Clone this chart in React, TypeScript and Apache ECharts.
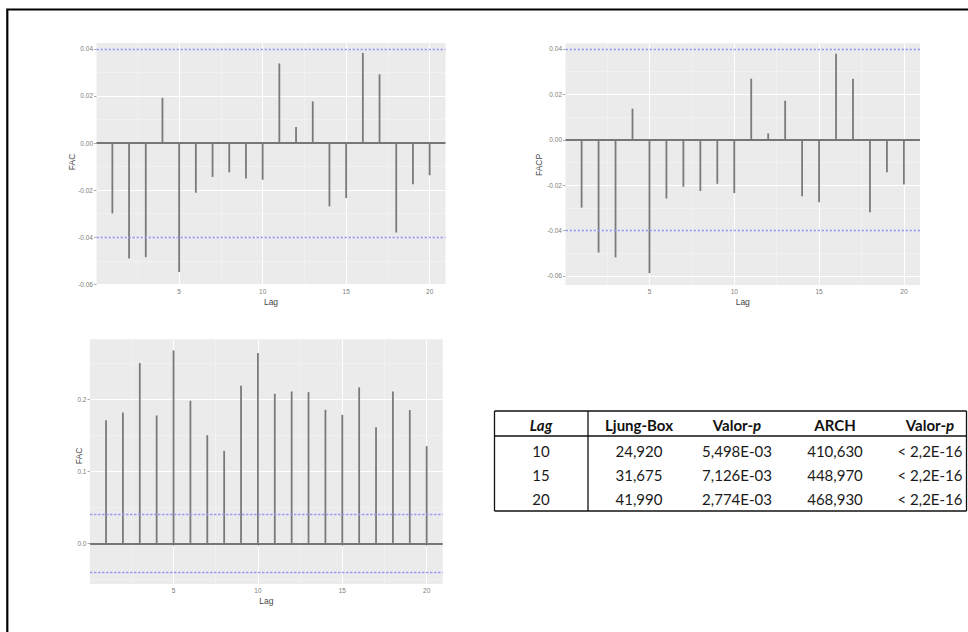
import { useEffect, useRef } from 'react';
import * as echarts from 'echarts';

// Correlograms of the model residuals (lags 1-20)
const LAGS = [1, 2, 3, 4, 5, 6, 7, 8, 9, 10, 11, 12, 13, 14, 15, 16, 17, 18, 19, 20];
const FAC_RESID = [
  -0.0299, -0.049, -0.0485, 0.0192, -0.0548, -0.0211, -0.0144, -0.0124, -0.0151, -0.0156,
  0.0338, 0.0068, 0.0177, -0.0269, -0.0234, 0.0383, 0.0292, -0.038, -0.0175, -0.0137,
];
const FACP_RESID = [
  -0.0299, -0.0497, -0.0518, 0.0137, -0.0588, -0.0259, -0.0207, -0.0226, -0.0194, -0.0235,
  0.0269, 0.0028, 0.0172, -0.0249, -0.0275, 0.0379, 0.0269, -0.0319, -0.0143, -0.0197,
];
const FAC_RESID_SQ = [
  0.1709, 0.1815, 0.2499, 0.1774, 0.2674, 0.1977, 0.1501, 0.1284, 0.2185, 0.2637,
  0.2074, 0.2106, 0.2097, 0.1852, 0.1783, 0.2162, 0.1612, 0.2106, 0.1848, 0.1349,
];
const CONF_BOUND = 0.0402;

const LAG_TICKS = [5, 10, 15, 20];
const SMALL_TICKS = [-0.06, -0.04, -0.02, 0, 0.02, 0.04];
const SQ_TICKS = [0, 0.1, 0.2];

// Ljung-Box and ARCH tests
const TABLE_LAGS = ['10', '15', '20'];
const LJUNG_BOX = ['24,920', '31,675', '41,990'];
const LJUNG_BOX_P = ['5,498E-03', '7,126E-03', '2,774E-03'];
const ARCH_STAT = ['410,630', '448,970', '468,930'];
const ARCH_P = ['< 2,2E-16', '< 2,2E-16', '< 2,2E-16'];

const SANS = '"Liberation Sans", Arial, sans-serif';
const TABLE_FONT = 'Lato, "Open Sans", sans-serif';

type Panel = {
  values: number[];
  yTitle: string;
  ticks: number[];
  digits: number;
  yMin: number;
  yMax: number;
  left: number;
  top: number;
  width: number;
  height: number;
  yTitleX: number;
  yTitleY: number;
};

const panels: Panel[] = [
  {
    values: FAC_RESID, yTitle: 'FAC', ticks: SMALL_TICKS, digits: 2,
    yMin: -0.0603, yMax: 0.0425,
    left: 96.5, top: 43, width: 349, height: 242, yTitleX: 71.7, yTitleY: 162,
  },
  {
    values: FACP_RESID, yTitle: 'FACP', ticks: SMALL_TICKS, digits: 2,
    yMin: -0.064, yMax: 0.0425,
    left: 565.5, top: 43.3, width: 354.5, height: 241.7, yTitleX: 539.3, yTitleY: 165,
  },
  {
    values: FAC_RESID_SQ, yTitle: 'FAC', ticks: SQ_TICKS, digits: 1,
    yMin: -0.0559, yMax: 0.2828,
    left: 90, top: 339.3, width: 352.7, height: 244.7, yTitleX: 78.5, yTitleY: 456,
  },
];

// ggplot-style 5% expansion of the lag range
const lagSpan = LAGS[LAGS.length - 1] - LAGS[0];
const LAG_MIN = LAGS[0] - 0.05 * lagSpan;
const LAG_MAX = LAGS[LAGS.length - 1] + 0.05 * lagSpan;

// minor grid lines sit halfway between the major breaks
function minorBreaks(ticks: number[], lo: number, hi: number): number[] {
  const step = ticks[1] - ticks[0];
  const out = [ticks[0] - step / 2, ...ticks.map((t) => t + step / 2)];
  return out.filter((v) => v > lo && v < hi);
}

function buildOption() {
  const grid: any[] = [];
  const xAxis: any[] = [];
  const yAxis: any[] = [];
  const series: any[] = [];
  const graphic: any[] = [];

  panels.forEach((p, i) => {
    grid.push({
      left: p.left, top: p.top, width: p.width, height: p.height,
      show: true, backgroundColor: '#EBEBEB', borderWidth: 0, containLabel: false,
    });

    const labelStyle = { fontSize: 6.5, color: '#7d7d7d', fontFamily: SANS };
    const tickStyle = { color: '#9a9a9a', width: 0.8 };

    xAxis.push({
      type: 'value', gridIndex: i, min: LAG_MIN, max: LAG_MAX,
      axisLine: { show: false },
      axisTick: { show: true, length: 2.5, lineStyle: tickStyle, customValues: LAG_TICKS },
      axisLabel: { ...labelStyle, margin: 3, customValues: LAG_TICKS },
      splitLine: { show: true, lineStyle: { color: '#ffffff', width: 1 } },
    });
    xAxis.push({
      type: 'value', gridIndex: i, min: LAG_MIN, max: LAG_MAX,
      axisLine: { show: false },
      axisTick: { show: false, customValues: minorBreaks(LAG_TICKS, LAG_MIN, LAG_MAX) },
      axisLabel: { show: false },
      splitLine: { show: true, lineStyle: { color: '#f6f6f6', width: 0.5 } },
    });

    yAxis.push({
      type: 'value', gridIndex: i, min: p.yMin, max: p.yMax,
      axisLine: { show: false },
      axisTick: { show: true, length: 2.5, lineStyle: tickStyle, customValues: p.ticks },
      axisLabel: {
        ...labelStyle, margin: 3.5, customValues: p.ticks,
        formatter: (v: number) => v.toFixed(p.digits),
      },
      splitLine: { show: true, lineStyle: { color: '#ffffff', width: 1 } },
    });
    yAxis.push({
      type: 'value', gridIndex: i, min: p.yMin, max: p.yMax,
      axisLine: { show: false },
      axisTick: { show: false, customValues: minorBreaks(p.ticks, p.yMin, p.yMax) },
      axisLabel: { show: false },
      splitLine: { show: true, lineStyle: { color: '#f6f6f6', width: 0.5 } },
    });

    series.push({
      type: 'bar',
      xAxisIndex: 2 * i,
      yAxisIndex: 2 * i,
      data: LAGS.map((lag, k) => [lag, p.values[k]]),
      barWidth: 1.8,
      itemStyle: { color: '#7a7a7a' },
      silent: true,
      markLine: {
        silent: true,
        symbol: 'none',
        label: { show: false },
        data: [
          { yAxis: 0, lineStyle: { color: '#767676', width: 2, type: 'solid' } },
          { yAxis: CONF_BOUND, lineStyle: { color: '#9a9af0', width: 1.3, type: [2.5, 1.5] } },
          { yAxis: -CONF_BOUND, lineStyle: { color: '#9a9af0', width: 1.3, type: [2.5, 1.5] } },
        ],
      },
    });

    // axis titles
    graphic.push({
      type: 'text',
      x: p.left + p.width / 2,
      y: p.top + p.height + 17,
      style: {
        text: 'Lag', fontSize: 8.5, fontFamily: SANS, fill: '#484848',
        align: 'center', verticalAlign: 'middle',
      },
    });
    graphic.push({
      type: 'text',
      x: p.yTitleX,
      y: p.yTitleY,
      rotation: Math.PI / 2,
      style: {
        text: p.yTitle, fontSize: 8.5, fontFamily: SANS, fill: '#484848',
        align: 'center', verticalAlign: 'middle',
      },
    });
  });

  // test table
  const tLeft = 494.5;
  const tRight = 966.5;
  const tTop = 411;
  const tHeadLine = 436;
  const tBottom = 511;
  const tSep = 588;
  const colX = [541, 639, 737, 835, 930];
  const headY = 424.5;
  const rowY = [451, 475, 499];
  const lineStyle = { stroke: '#111111', lineWidth: 1.3 };

  const hLine = (y: number) => ({
    type: 'line', shape: { x1: tLeft, y1: y, x2: tRight, y2: y }, style: lineStyle,
  });
  const vLine = (x: number) => ({
    type: 'line', shape: { x1: x, y1: tTop, x2: x, y2: tBottom }, style: lineStyle,
  });
  graphic.push(hLine(tTop), hLine(tHeadLine), hLine(tBottom), vLine(tLeft), vLine(tSep), vLine(tRight));

  const headRich = {
    b: { fontWeight: 'bold', fontSize: 15, fontFamily: TABLE_FONT, fill: '#111111' },
    bi: { fontWeight: 'bold', fontStyle: 'italic', fontSize: 15, fontFamily: TABLE_FONT, fill: '#111111' },
  };
  const headers = ['{bi|Lag}', '{b|Ljung-Box}', '{b|Valor-}{bi|p}', '{b|ARCH}', '{b|Valor-}{bi|p}'];
  headers.forEach((h, c) => {
    graphic.push({
      type: 'text', x: colX[c], y: headY,
      style: { text: h, rich: headRich, align: 'center', verticalAlign: 'middle' },
    });
  });

  const columns = [TABLE_LAGS, LJUNG_BOX, LJUNG_BOX_P, ARCH_STAT, ARCH_P];
  columns.forEach((col, c) => {
    col.forEach((cell, r) => {
      graphic.push({
        type: 'text', x: colX[c], y: rowY[r],
        style: {
          text: cell, fontSize: 15, fontFamily: TABLE_FONT, fill: '#1a1a1a',
          align: 'center', verticalAlign: 'middle',
        },
      });
    });
  });

  // outer frame
  graphic.push({
    type: 'rect',
    shape: { x: 7.3, y: 9.5, width: 1400, height: 1000 },
    style: { fill: 'none', stroke: '#000000', lineWidth: 2.2 },
    z: 100,
  });

  return {
    animation: false,
    backgroundColor: '#ffffff',
    grid,
    xAxis,
    yAxis,
    series,
    graphic,
  };
}

export default function App() {
  const ref = useRef<HTMLDivElement>(null);

  useEffect(() => {
    if (!ref.current) return;
    const chart = echarts.init(ref.current, undefined, { renderer: 'svg' });
    chart.setOption(buildOption() as any);
    return () => chart.dispose();
  }, []);

  return (
    <div
      ref={ref}
      style={{ position: 'fixed', left: 0, top: 0, width: 968, height: 632 }}
    />
  );
}
